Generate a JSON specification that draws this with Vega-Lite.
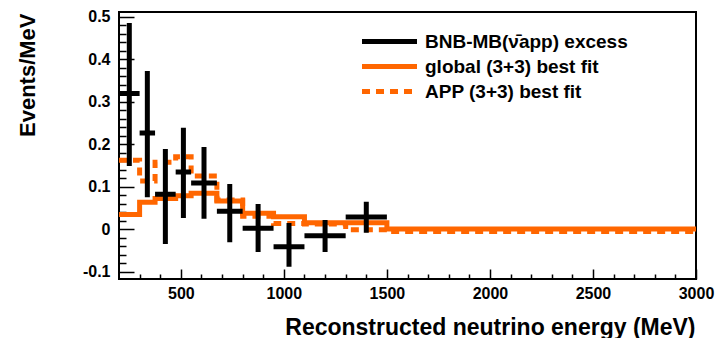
{
  "$schema": "https://vega.github.io/schema/vega-lite/v6.json",
  "width": 577,
  "height": 267,
  "autosize": "none",
  "padding": {"left": 119, "top": 12, "right": 25, "bottom": 59},
  "background": "white",
  "config": {
    "view": {"stroke": "black", "strokeWidth": 2},
    "font": "Liberation Sans",
    "axis": {
      "labelFont": "Liberation Sans", "labelFontWeight": "bold", "labelFontSize": 16, "labelColor": "black",
      "titleFont": "Liberation Sans", "titleFontWeight": "bold", "titleFontSize": 22, "titleColor": "black",
      "grid": false, "domain": false, "tickColor": "black", "tickWidth": 1.5,
      "labelOverlap": false, "labelBound": false, "labelFlush": false
    },
    "legend": {
      "orient": "none", "legendX": 261, "legendY": 20,
      "symbolType": "M-5,0H5", "symbolSize": 121, "symbolStrokeWidth": 5,
      "labelFont": "Liberation Sans", "labelFontWeight": "bold", "labelFontSize": 19, "labelColor": "black",
      "labelOffset": 26, "rowPadding": 4, "labelLimit": 400, "title": null
    }
  },
  "resolve": {"axis": {"x": "independent", "y": "independent"}},
  "datasets": {
    "excess": [
      {"series": "BNB-MB(ν̄app) excess", "elo": 200, "ehi": 300, "mid": 250, "val": 0.319, "lo": 0.148, "hi": 0.485},
      {"series": "BNB-MB(ν̄app) excess", "elo": 300, "ehi": 375, "mid": 337.5, "val": 0.226, "lo": 0.075, "hi": 0.372},
      {"series": "BNB-MB(ν̄app) excess", "elo": 375, "ehi": 475, "mid": 425, "val": 0.082, "lo": -0.035, "hi": 0.188},
      {"series": "BNB-MB(ν̄app) excess", "elo": 475, "ehi": 550, "mid": 512.5, "val": 0.134, "lo": 0.026, "hi": 0.238},
      {"series": "BNB-MB(ν̄app) excess", "elo": 550, "ehi": 675, "mid": 612.5, "val": 0.108, "lo": 0.024, "hi": 0.193},
      {"series": "BNB-MB(ν̄app) excess", "elo": 675, "ehi": 800, "mid": 737.5, "val": 0.042, "lo": -0.031, "hi": 0.106},
      {"series": "BNB-MB(ν̄app) excess", "elo": 800, "ehi": 950, "mid": 875, "val": 0.002, "lo": -0.054, "hi": 0.059},
      {"series": "BNB-MB(ν̄app) excess", "elo": 950, "ehi": 1100, "mid": 1025, "val": -0.042, "lo": -0.089, "hi": 0.014},
      {"series": "BNB-MB(ν̄app) excess", "elo": 1100, "ehi": 1300, "mid": 1200, "val": -0.016, "lo": -0.054, "hi": 0.021},
      {"series": "BNB-MB(ν̄app) excess", "elo": 1300, "ehi": 1500, "mid": 1400, "val": 0.028, "lo": -0.009, "hi": 0.064}
    ],
    "fits": [
      {"series": "global (3+3) best fit", "edge": 200, "val": 0.034},
      {"series": "global (3+3) best fit", "edge": 300, "val": 0.063},
      {"series": "global (3+3) best fit", "edge": 375, "val": 0.072},
      {"series": "global (3+3) best fit", "edge": 475, "val": 0.078},
      {"series": "global (3+3) best fit", "edge": 550, "val": 0.084},
      {"series": "global (3+3) best fit", "edge": 675, "val": 0.066},
      {"series": "global (3+3) best fit", "edge": 800, "val": 0.037},
      {"series": "global (3+3) best fit", "edge": 950, "val": 0.029},
      {"series": "global (3+3) best fit", "edge": 1100, "val": 0.015},
      {"series": "global (3+3) best fit", "edge": 1300, "val": 0.015},
      {"series": "global (3+3) best fit", "edge": 1500, "val": 0.0},
      {"series": "global (3+3) best fit", "edge": 3000, "val": 0.0},
      {"series": "APP (3+3) best fit", "edge": 200, "val": 0.162},
      {"series": "APP (3+3) best fit", "edge": 300, "val": 0.113},
      {"series": "APP (3+3) best fit", "edge": 375, "val": 0.157},
      {"series": "APP (3+3) best fit", "edge": 475, "val": 0.17},
      {"series": "APP (3+3) best fit", "edge": 550, "val": 0.125},
      {"series": "APP (3+3) best fit", "edge": 675, "val": 0.068},
      {"series": "APP (3+3) best fit", "edge": 800, "val": 0.03},
      {"series": "APP (3+3) best fit", "edge": 950, "val": 0.013},
      {"series": "APP (3+3) best fit", "edge": 1100, "val": 0.012},
      {"series": "APP (3+3) best fit", "edge": 1300, "val": -0.002},
      {"series": "APP (3+3) best fit", "edge": 1500, "val": -0.006},
      {"series": "APP (3+3) best fit", "edge": 3000, "val": -0.006}
    ]
  },
  "layer": [
    {
      "data": {"name": "fits"},
      "transform": [{"filter": "datum.series === 'APP (3+3) best fit'"}],
      "mark": {"type": "line", "interpolate": "step-after", "strokeWidth": 5, "strokeCap": "butt"},
      "encoding": {
        "x": {"field": "edge", "type": "quantitative", "scale": {"domain": [200, 3000], "nice": false, "zero": false},
          "axis": {"orient": "bottom", "title": "Reconstructed neutrino energy (MeV)", "titleFontSize": 23, "values": [500, 1000, 1500, 2000, 2500, 3000],
            "format": "d", "tickSize": -10, "labelPadding": 16, "labelBaseline": "top",
            "titleAnchor": "end", "titleAlign": "right", "titleX": 576, "titleY": 55, "titleBaseline": "alphabetic"}},
        "y": {"field": "val", "type": "quantitative", "scale": {"domain": [-0.1176, 0.5106], "nice": false, "zero": false},
          "axis": {"orient": "left", "title": "Events/MeV", "values": [-0.1, 0, 0.1, 0.2, 0.3, 0.4, 0.5],
            "labelExpr": "datum.value === 0 ? '0' : replace(format(datum.value, '.1f'), '−', '-')",
            "tickSize": -15, "labelPadding": 24,
            "titleAnchor": "end", "titleAlign": "right", "titleAngle": 270, "titleX": -85, "titleY": 1, "titleBaseline": "alphabetic"}},
        "color": {"field": "series", "type": "nominal", "scale": {"domain": ["BNB-MB(ν̄app) excess", "global (3+3) best fit", "APP (3+3) best fit"], "range": ["black", "#ff6600", "#ff6600"]}},
        "strokeDash": {"field": "series", "type": "nominal", "scale": {"domain": ["BNB-MB(ν̄app) excess", "global (3+3) best fit", "APP (3+3) best fit"], "range": [[1, 0], [1, 0], [8, 6]]}}
      }
    },
    {
      "data": {"name": "fits"},
      "transform": [{"filter": "datum.series === 'global (3+3) best fit'"}],
      "mark": {"type": "line", "interpolate": "step-after", "strokeWidth": 5, "strokeCap": "butt"},
      "encoding": {
        "x": {"field": "edge", "type": "quantitative",
          "axis": {"orient": "bottom", "title": null, "labels": false, "tickSize": -5,
            "values": [300,400,600,700,800,900,1100,1200,1300,1400,1600,1700,1800,1900,2100,2200,2300,2400,2600,2700,2800,2900]}},
        "y": {"field": "val", "type": "quantitative",
          "axis": {"orient": "left", "title": null, "labels": false, "tickSize": -7,
            "values": [-0.08,-0.06,-0.04,-0.02,0.02,0.04,0.06,0.08,0.12,0.14,0.16,0.18,0.22,0.24,0.26,0.28,0.32,0.34,0.36,0.38,0.42,0.44,0.46,0.48]}},
        "color": {"field": "series", "type": "nominal"},
        "strokeDash": {"field": "series", "type": "nominal"}
      }
    },
    {
      "data": {"name": "excess"},
      "mark": {"type": "rule", "strokeWidth": 5},
      "encoding": {
        "x": {"field": "mid", "type": "quantitative", "axis": null},
        "y": {"field": "lo", "type": "quantitative", "axis": null},
        "y2": {"field": "hi"},
        "color": {"field": "series", "type": "nominal"},
        "strokeDash": {"field": "series", "type": "nominal"}
      }
    },
    {
      "data": {"name": "excess"},
      "mark": {"type": "rule", "strokeWidth": 5},
      "encoding": {
        "x": {"field": "elo", "type": "quantitative", "axis": null},
        "x2": {"field": "ehi"},
        "y": {"field": "val", "type": "quantitative", "axis": null},
        "color": {"field": "series", "type": "nominal"},
        "strokeDash": {"field": "series", "type": "nominal"}
      }
    },
    {
      "mark": {"type": "rule", "color": "black", "strokeWidth": 1},
      "encoding": {"y": {"datum": 0, "axis": null}}
    }
  ]
}
